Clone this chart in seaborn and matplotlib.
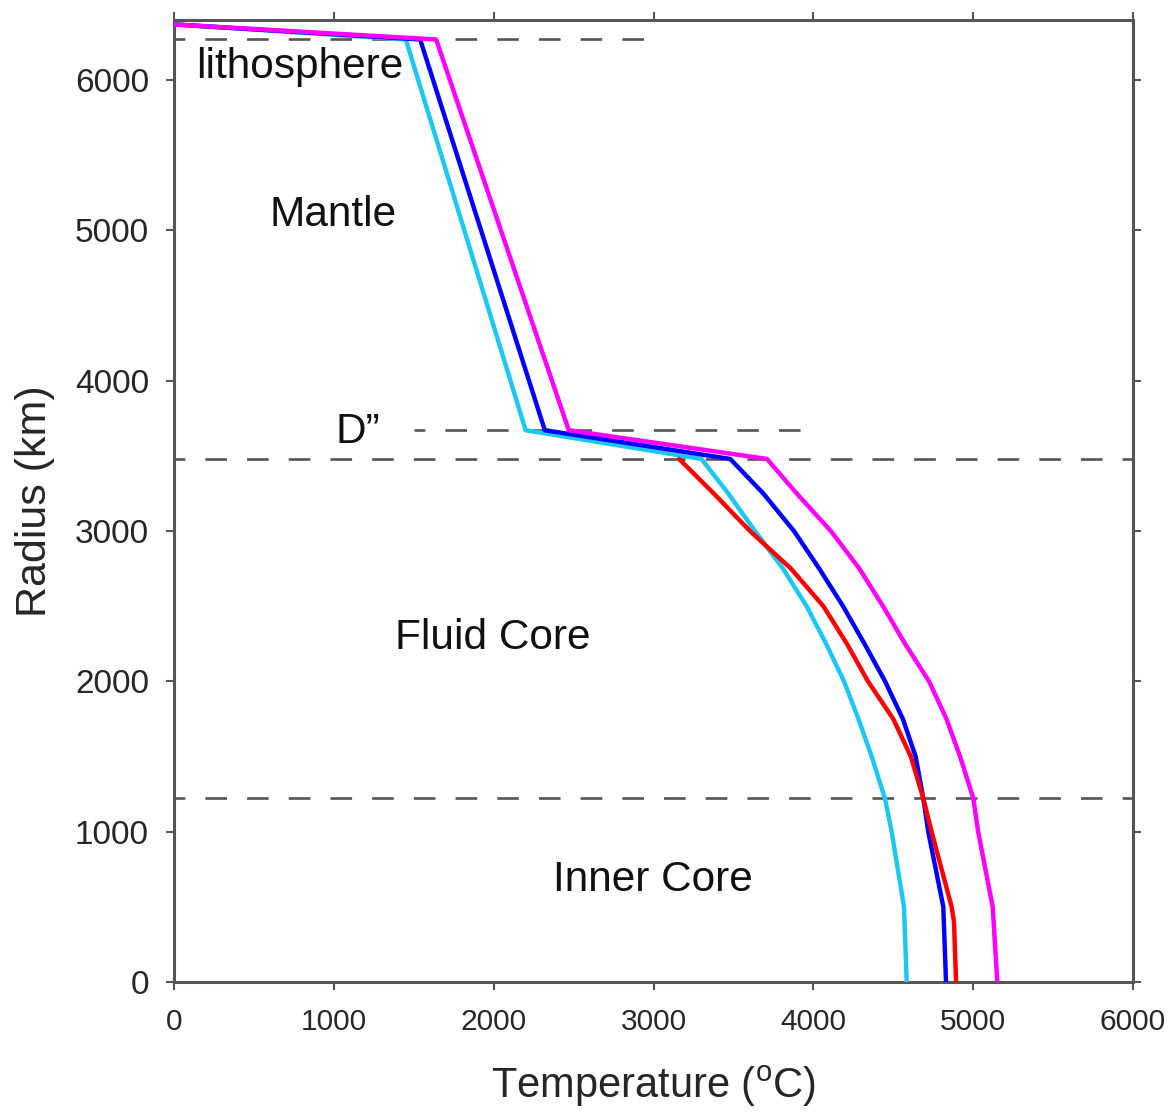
import numpy as np
import pandas as pd
import seaborn as sns
import matplotlib.pyplot as plt

# Layer boundaries (radius, km) and the extent of each dashed marker
boundary_radius = [6271, 3671, 3480, 1221]
boundary_tmin = [0, 1500, 0, 0]
boundary_tmax = [3000, 4000, 6000, 6000]

# Mantle part of the geotherms (surface -> lithosphere base -> top of D'')
mantle_radius = [6371, 6271, 3671]
cyan_mantle = [0, 1450, 2200]
blue_mantle = [0, 1540, 2320]
magenta_mantle = [0, 1640, 2470]

# Core part (CMB down to centre)
core_radius = [3480, 3250, 3000, 2750, 2500, 2250, 2000, 1750, 1500, 1221, 1000, 500, 0]
cyan_core = [3300, 3468, 3635, 3810, 3958, 4080, 4192, 4282, 4365, 4448, 4490, 4567, 4584]
blue_core = [3480, 3687, 3879, 4037, 4186, 4320, 4449, 4560, 4640, 4688, 4719, 4813, 4830]
magenta_core = [3710, 3896, 4110, 4288, 4436, 4574, 4724, 4833, 4918, 5001, 5031, 5122, 5151]

# Core-only profile
red_radius = [3480, 3250, 3000, 2750, 2500, 2250, 2000, 1750, 1500, 1221, 1000, 500, 400, 0]
red_core = [3160, 3377, 3604, 3860, 4063, 4210, 4342, 4500, 4610, 4688, 4740, 4865, 4880, 4893]

# Region labels
label_text = ["lithosphere", "Mantle", "D\u201d", "Fluid Core", "Inner Core"]
label_t = [788, 995, 1151, 1996, 2997]
label_r = [6085, 5100, 3662, 2290, 679]

colors = {"cyan": "#1cc8f2", "blue": "#0000ff", "red": "#ff0000", "magenta": "#ff00ff"}

frames = []
for name, temps, radii in [
    ("cyan", cyan_mantle + cyan_core, mantle_radius + core_radius),
    ("blue", blue_mantle + blue_core, mantle_radius + core_radius),
    ("red", red_core, red_radius),
    ("magenta", magenta_mantle + magenta_core, mantle_radius + core_radius),
]:
    frames.append(pd.DataFrame({"temperature": temps, "radius": radii, "model": name}))
df = pd.concat(frames, ignore_index=True)

sns.set_style("ticks")
plt.rcParams["font.family"] = ["Liberation Sans", "DejaVu Sans"]
plt.rcParams["mathtext.fontset"] = "custom"
plt.rcParams["mathtext.rm"] = "Liberation Sans"

fig = plt.figure(figsize=(11.74, 11.14), dpi=100)
ax = fig.add_axes([0.1482, 0.1185, 0.8169, 0.8635])

gray = "#555555"
for r, t0, t1 in zip(boundary_radius, boundary_tmin, boundary_tmax):
    ax.plot([t0, t1], [r, r], color=gray, lw=1.9, linestyle=(4.1, (8.2, 7.6)), zorder=1)

sns.lineplot(data=df, x="temperature", y="radius", hue="model", palette=colors,
             sort=False, estimator=None, legend=False, linewidth=3.2, ax=ax, zorder=3)

for txt, t, r in zip(label_text, label_t, label_r):
    ax.text(t, r, txt, fontsize=30.5, ha="center", va="center", color="#111111")

ax.set_xlim(0, 6000)
ax.set_ylim(0, 6400)
ax.set_xticks(range(0, 6001, 1000))
ax.set_yticks(range(0, 6001, 1000))
ax.tick_params(direction="out", length=6, width=1.5, color=gray,
               top=True, right=True, labeltop=False, labelright=False)
ax.tick_params(axis="x", labelsize=21.5, pad=13)
ax.tick_params(axis="y", labelsize=24, pad=12)
for s in ax.spines.values():
    s.set_color(gray)
    s.set_linewidth(2.2)
    s.set_visible(True)

ax.set_xlabel(r"Temperature ($^{\mathrm{o}}$C)", fontsize=30, labelpad=20)
ax.set_ylabel("Radius (km)", fontsize=31, labelpad=14)

fig.savefig("out.png", dpi=100)
